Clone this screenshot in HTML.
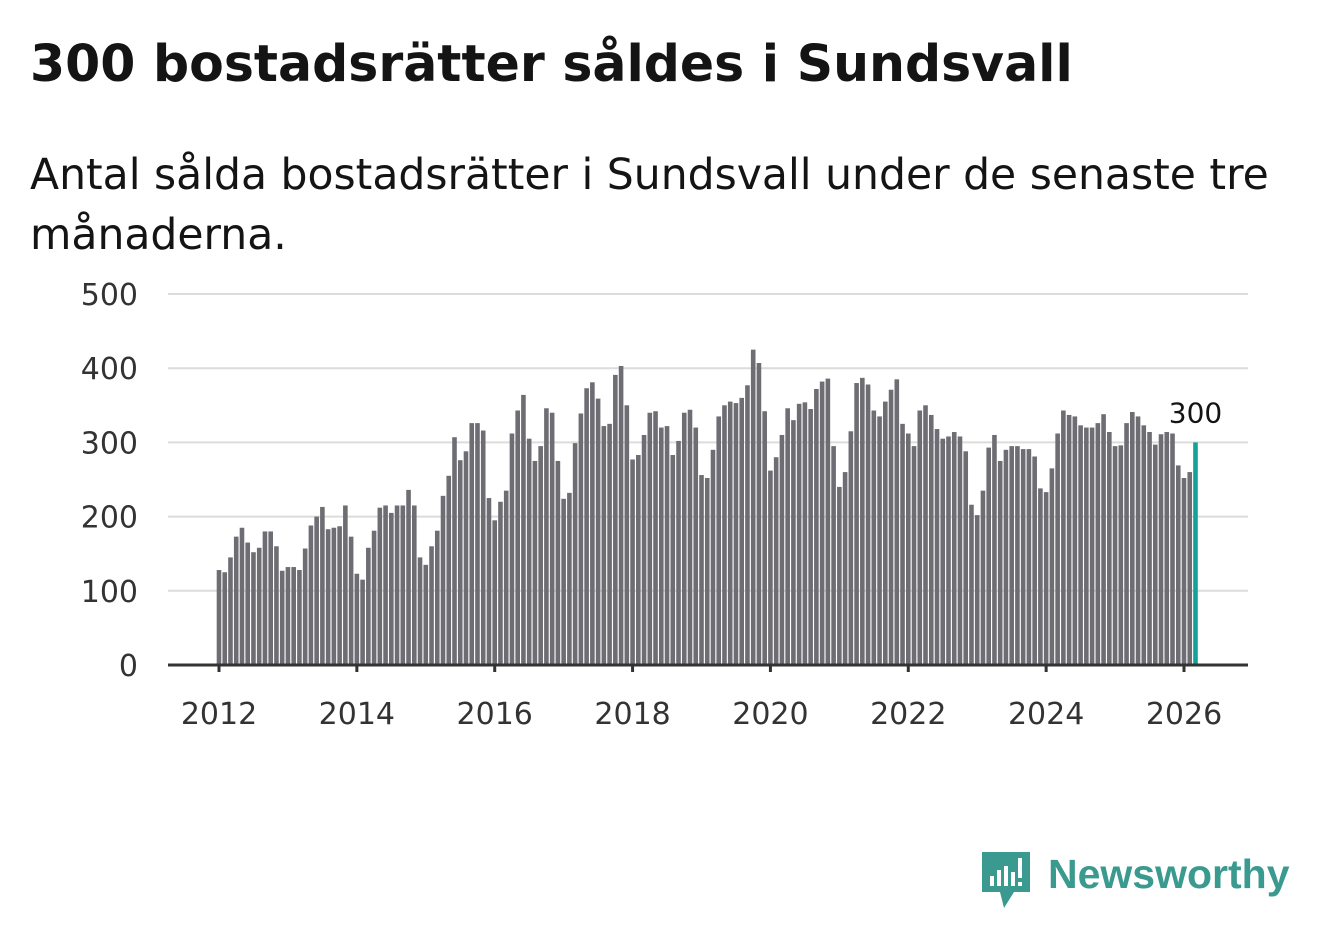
<!DOCTYPE html>
<html><head><meta charset="utf-8"><style>
body{margin:0;background:#fff;width:1322px;height:939px;overflow:hidden;font-family:"DejaVu Sans","Liberation Sans",sans-serif}
#title{position:absolute;left:30px;top:34px;font-size:50.5px;font-weight:bold;color:#141414;margin:0;white-space:nowrap}
#sub{position:absolute;left:30px;top:146px;font-size:42.5px;line-height:60px;color:#141414;width:1290px}
svg{position:absolute;left:0;top:0}
</style></head><body>
<h1 id="title">300 bostadsrätter såldes i Sundsvall</h1>
<div id="sub">Antal sålda bostadsrätter i Sundsvall under de senaste tre månaderna.</div>
<svg id="chart" width="1322" height="939" font-family="DejaVu Sans, sans-serif"></svg>
<script>
const yTicks=[0,100,200,300,400,500];
const xTickYears=[2012,2014,2016,2018,2020,2022,2024,2026];
const startYear=2012;
const values=[
128,125,145,173,185,165,152,158,180,180,160,127,
132,132,128,157,188,200,213,183,185,187,215,173,
123,115,158,181,212,215,205,215,215,236,215,145,
135,160,181,228,255,307,276,288,326,326,316,225,
195,220,235,312,343,364,305,275,295,346,340,275,
224,232,299,339,373,381,359,322,325,391,403,350,
277,283,310,340,342,320,322,283,302,340,344,320,
256,252,290,335,350,355,353,360,377,425,407,342,
262,280,310,346,330,352,354,345,372,382,386,295,
240,260,315,380,387,378,343,335,355,371,385,325,
312,295,343,350,337,318,305,308,314,308,288,216,
202,235,293,310,275,290,295,295,291,291,281,238,
233,265,312,343,337,335,323,320,320,326,338,314,
295,296,326,341,335,323,314,297,311,314,312,269,
252,260,300];
const NS='http://www.w3.org/2000/svg';
const svg=document.getElementById('chart');
const y=v=>665-v*(371/500);
const x=i=>219+i*(965/168);
function mk(t,a){const e=document.createElementNS(NS,t);for(const k in a)e.setAttribute(k,a[k]);svg.appendChild(e);return e;}
yTicks.forEach(t=>{
  if(t>0){const g=mk('line',{x1:168,x2:1248,y1:y(t),y2:y(t),stroke:'#dcdcdc','stroke-width':2});
  
  }
  const l=mk('text',{x:138,y:y(t)+11,'text-anchor':'end','font-size':30,fill:'#333'});
  l.textContent=t;
  
  
});
values.forEach((v,i)=>{
  const last=i===values.length-1;
  const r=mk('rect',{x:x(i)-2.3,y:y(v),width:4.6,height:665-y(v),fill:last?'#13a297':'#6e6d73'});
  
  
});
const lv=values[values.length-1];
const lab=mk('text',{x:x(values.length-1),y:y(lv)-20,'text-anchor':'middle','font-size':28,fill:'#141414'});
lab.textContent=lv;


const ax=mk('line',{x1:168,x2:1248,y1:665,y2:665,stroke:'#333','stroke-width':3});


xTickYears.forEach(yr=>{
  const xx=x((yr-startYear)*12);
  const tk=mk('line',{x1:xx,x2:xx,y1:665,y2:672,stroke:'#333','stroke-width':3});
  
  
  const t=mk('text',{x:xx,y:724,'text-anchor':'middle','font-size':30,fill:'#333'});
  t.textContent=yr;
  
  
});
</script>
<svg width="1322" height="939">
<path d="M982 852 h48 v40 h-16 l-10 16 l-4 -16 h-18 z" fill="#3a9a8f"/>
<rect x="990" y="876" width="4" height="10" fill="#fff"/><rect x="997" y="870" width="4" height="16" fill="#fff"/><rect x="1004" y="866" width="4" height="20" fill="#fff"/><rect x="1011" y="872" width="4" height="14" fill="#fff"/><rect x="1018" y="858" width="4" height="20" fill="#fff"/><rect x="1018" y="882" width="4" height="4" fill="#fff"/>
<text x="1048" y="888" font-size="41" font-weight="bold" fill="#3a9a8f" font-family="Liberation Sans, sans-serif">Newsworthy</text>
</svg>
</body></html>
